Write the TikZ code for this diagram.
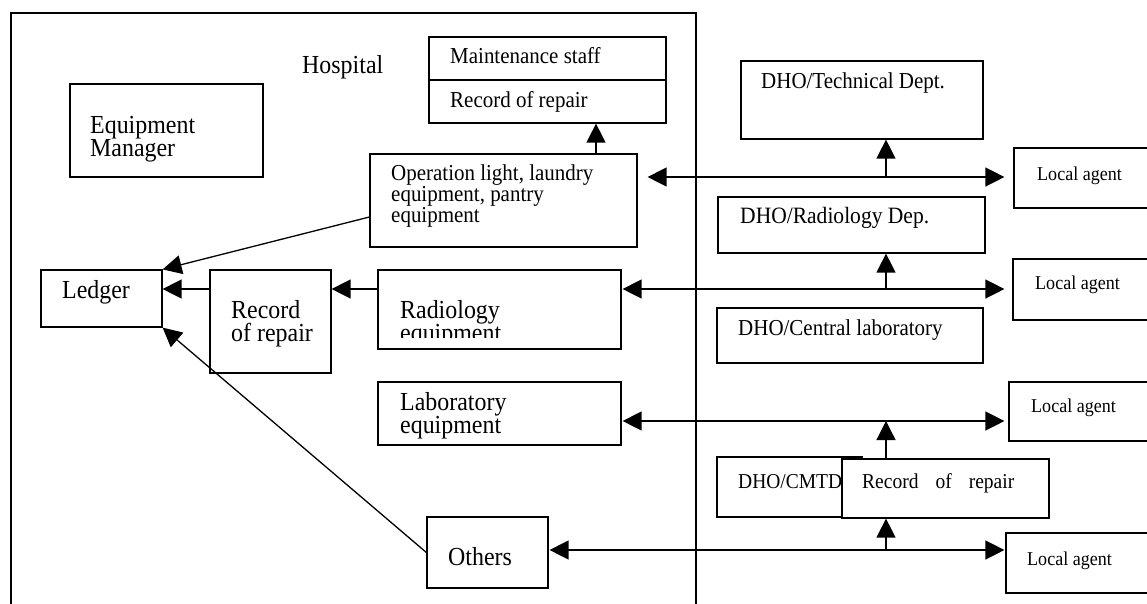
\documentclass[tikz,border=0pt]{standalone}
\usepackage{fontspec}
\setmainfont[FakeStretch=0.92]{Liberation Serif}
\usetikzlibrary{arrows.meta, positioning}
\setlength{\lineskiplimit}{-50pt}

\begin{document}
\begin{tikzpicture}[x=1pt, y=-1pt,
      box/.style={draw, line width=1.2pt, inner sep=0pt},
      txt/.style={inner sep=0pt, anchor=base west, align=left},
      big/.style={font=\fontsize{26}{23}\selectfont},
      mid/.style={font=\fontsize{22.8}{21}\selectfont},
      small/.style={font=\fontsize{19.6}{19}\selectfont},
      arrow/.style={-{Triangle[length=19pt, width=19pt]}, line width=1.3pt},
      dblarrow/.style={{Triangle[length=19pt, width=19pt]}-{Triangle[length=19pt, width=19pt]}, line width=1.3pt}
    ]
      \useasboundingbox (0,0) rectangle (1147,603);
      \clip (0,0) rectangle (1147,603);

      % Hospital frame (open at the bottom)
      \draw[line width=1.3pt] (11,610) |- (696,13) -- (696,610);
      \node[txt, big] (hosp) at (302,73) {Hospital};

      % Row and branch reference points
      \coordinate (rowA) at (0,177);
      \coordinate (rowB) at (0,289);
      \coordinate (rowC) at (0,421);
      \coordinate (rowD) at (0,550);
      \coordinate (upA) at (596,0);
      \coordinate (br) at (886,0);

      % Hospital boxes (base of a multi-line text = its last line)
      \node[box, minimum width=193pt, minimum height=93pt] (mgr) at (166.5,130.5) {};
      \node[txt, big] (mgr_text) at (90,156.5) {Equipment\\Manager};

      \node[box, minimum width=237pt, minimum height=43pt] (staff) at (547.5,58.5) {};
      \node[txt, mid] (staff_text) at (450,63) {Maintenance staff};
      \node[box, minimum width=237pt, minimum height=43pt] (rep_top) at (547.5,101.5) {};
      \node[txt, mid] (rep_top_text) at (450,107) {Record of repair};

      \node[box, minimum width=267pt, minimum height=93pt] (oplight) at (503.5,200.5) {};
      \node[txt, mid] (oplight_text) at (391,222.5) {Operation light, laundry\\equipment, pantry\\equipment};

      \node[box, minimum width=121pt, minimum height=57pt] (ledger) at (101.5,298.5) {};
      \node[txt, big] (ledger_text) at (62,298) {Ledger};

      \node[box, minimum width=121pt, minimum height=103pt] (rep_left) at (270.5,321.5) {};
      \node[txt, big] (rep_left_text) at (231,341.5) {Record\\of repair};

      \node[box, minimum width=243pt, minimum height=79pt] (radio) at (499.5,309.5) {};
      \begin{scope}
        \clip (radio.north west) rectangle ([yshift=12pt]radio.south east);
        \node[txt, big] (radio_text) at (400,341.5) {Radiology\\equipment};
      \end{scope}

      \node[box, minimum width=243pt, minimum height=63pt] (lab) at (499.5,413.5) {};
      \node[txt, big] (lab_text) at (400,433) {Laboratory\\equipment};

      \node[box, minimum width=121pt, minimum height=71pt] (others) at (487.5,552.5) {};
      \node[txt, big] (others_text) at (448,565) {Others};

      % DHO boxes
      \node[box, minimum width=242pt, minimum height=78pt] (tech) at (862,100) {};
      \node[txt, mid] (tech_text) at (761,88) {DHO/Technical Dept.};

      \node[box, minimum width=267pt, minimum height=56pt] (raddep) at (851.5,225) {};
      \node[txt, font=\fontsize{23.4}{20}\selectfont] (raddep_text) at (740,223) {DHO/Radiology Dep.};

      \node[box, minimum width=266pt, minimum height=55pt] (central) at (850,335.5) {};
      \node[txt, mid] (central_text) at (738,335) {DHO/Central laboratory};

      \node[box, minimum width=145pt, minimum height=60pt] (cmtd) at (789.5,487) {};
      \node[txt, font=\fontsize{21.2}{20}\selectfont] (cmtd_text) at (738,488) {DHO/CMTD};

      \node[box, fill=white, minimum width=207pt, minimum height=59pt] (rep_right) at (945.5,488.5) {};
      \node[txt, font=\fontsize{21.2}{20}\selectfont] (rep_right_text) at (862,488) {Record\hspace{17pt}of\hspace{17pt}repair};

      % Local agents (cut off at the right edge)
      \node[box, minimum width=146pt, minimum height=60pt] (agent1) at (1087,178) {};
      \node[txt, small] (agent1_text) at (1037,180) {Local agent};
      \node[box, minimum width=146pt, minimum height=61pt] (agent2) at (1086,289.5) {};
      \node[txt, small] (agent2_text) at (1035,289) {Local agent};
      \node[box, minimum width=146pt, minimum height=59pt] (agent3) at (1082,411.5) {};
      \node[txt, small] (agent3_text) at (1031,412) {Local agent};
      \node[box, minimum width=146pt, minimum height=60pt] (agent4) at (1079,563) {};
      \node[txt, small] (agent4_text) at (1027,565) {Local agent};

      % Arrows inside the hospital
      \draw[arrow] (oplight.north -| upA) -- (rep_top.south -| upA);
      \draw[arrow] ([yshift=-16.5pt]oplight.west) -- (ledger.north east);
      \draw[arrow] (rep_left.west |- rowB) -- (ledger.east |- rowB);
      \draw[arrow] (radio.west |- rowB) -- (rep_left.east |- rowB);
      \draw[arrow] (others.west) -- (ledger.south east);

      % Arrows to the local agents
      \draw[dblarrow, shorten <=10pt, shorten >=9pt] (oplight.east |- rowA) -- (agent1.west |- rowA);
      \draw[dblarrow, shorten <=1pt, shorten >=8pt] (radio.east |- rowB) -- (agent2.west |- rowB);
      \draw[dblarrow, shorten <=1pt, shorten >=4pt] (lab.east |- rowC) -- (agent3.west |- rowC);
      \draw[dblarrow, shorten <=1pt, shorten >=1pt] (others.east |- rowD) -- (agent4.west |- rowD);

      % Branches up to the DHO boxes
      \draw[arrow] (br |- rowA) -- (br |- tech.south);
      \draw[arrow] (br |- rowB) -- (br |- raddep.south);
      \draw[arrow] (br |- rep_right.north) -- (br |- rowC);
      \draw[arrow] (br |- rowD) -- (br |- rep_right.south);
    \end{tikzpicture}
\end{document}
